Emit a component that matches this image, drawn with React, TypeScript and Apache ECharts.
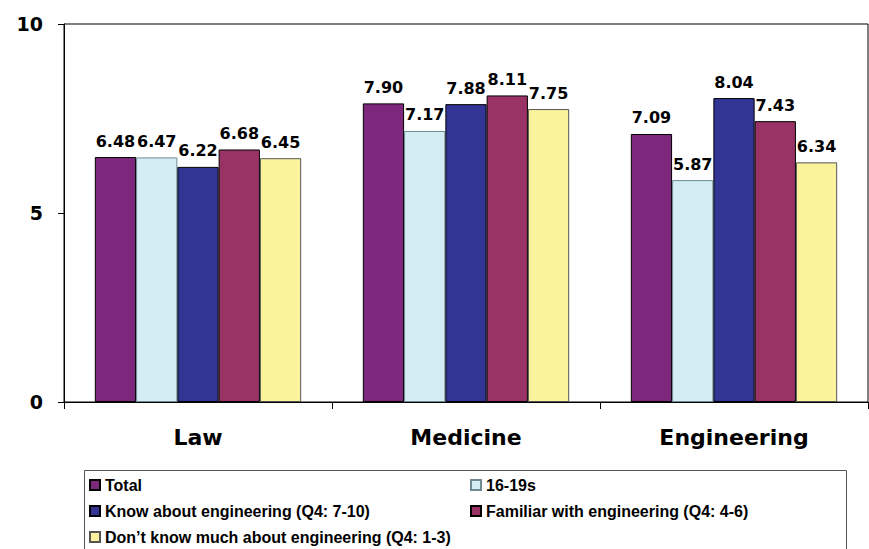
import React, { useEffect, useRef } from "react";
import * as echarts from "echarts";

const categories = ["Law", "Medicine", "Engineering"];
const seriesNames = [
  "Total",
  "16-19s",
  "Know about engineering (Q4: 7-10)",
  "Familiar with engineering (Q4: 4-6)",
  "Don\u2019t know much about engineering (Q4: 1-3)",
];
const totalValues = [6.48, 7.9, 7.09];
const teenValues = [6.47, 7.17, 5.87];
const knowValues = [6.22, 7.88, 8.04];
const familiarValues = [6.68, 8.11, 7.43];
const dontKnowValues = [6.45, 7.75, 6.34];
const yTicks = [0, 5, 10];

const seriesValues = [totalValues, teenValues, knowValues, familiarValues, dontKnowValues];
const colors = ["#7E287D", "#D4EDF4", "#333595", "#993366", "#FAF39B"];
const borders = ["#000000", "#6E8A90", "#000000", "#000000", "#555555"];

export default function App() {
  const ref = useRef<HTMLDivElement>(null);
  useEffect(() => {
    if (!ref.current) return;
    const chart = echarts.init(ref.current, undefined, { renderer: "svg" });
    const font = "DejaVu Sans";
    const legendText = {
      color: "#000",
      fontFamily: "Liberation Sans",
      fontWeight: "bold" as const,
      fontSize: 16,
      lineHeight: 18,
    };
    const legendBase = {
      orient: "vertical" as const,
      top: 476,
      height: 100,
      padding: 0,
      itemWidth: 10,
      itemHeight: 10,
      itemGap: 8,
      icon: "rect",
      textStyle: legendText,
      selectedMode: false,
    };
    chart.setOption({
      animation: false,
      backgroundColor: "#fff",
      color: colors,
      grid: {
        left: 64,
        right: 1,
        top: 24,
        bottom: 147,
        show: true,
        borderColor: "#000",
        borderWidth: 1,
        backgroundColor: "transparent",
      },
      xAxis: {
        type: "category",
        data: categories,
        axisLine: { show: true, lineStyle: { color: "#000", width: 1 } },
        axisTick: { show: true, length: 7, lineStyle: { color: "#000" } },
        axisLabel: {
          color: "#000",
          fontFamily: font,
          fontWeight: "bold",
          fontSize: 22,
          margin: 24,
        },
      },
      yAxis: {
        type: "value",
        min: yTicks[0],
        max: yTicks[yTicks.length - 1],
        interval: yTicks[1] - yTicks[0],
        axisLine: { show: true, lineStyle: { color: "#000", width: 1 } },
        axisTick: { show: true, length: 6, lineStyle: { color: "#000" } },
        splitLine: { show: false },
        axisLabel: {
          color: "#000",
          fontFamily: font,
          fontWeight: "bold",
          fontSize: 19,
          margin: 21,
        },
      },
      legend: [
        {
          ...legendBase,
          left: 89,
          data: [seriesNames[0], seriesNames[2], seriesNames[4]],
        },
        {
          ...legendBase,
          left: 470,
          data: [seriesNames[1], seriesNames[3]],
        },
      ],
      graphic: [
        {
          type: "rect",
          shape: { x: 84.5, y: 470.5, width: 762, height: 100 },
          style: { fill: "none", stroke: "#555", lineWidth: 1 },
          z: 0,
        },
      ],
      series: seriesNames.map((name, i) => ({
        name,
        type: "bar",
        data: seriesValues[i],
        barGap: "0%",
        barCategoryGap: "23%",
        itemStyle: { color: colors[i], borderColor: borders[i], borderWidth: 1 },
        label: {
          show: true,
          position: "top",
          distance: 8,
          formatter: (p: any) => Number(p.value).toFixed(2),
          color: "#000",
          fontFamily: font,
          fontWeight: "bold",
          fontSize: 16,
        },
      })),
    });
    return () => chart.dispose();
  }, []);
  return <div ref={ref} style={{ width: 869, height: 549, position: "absolute", left: 0, top: 0 }} />;
}
